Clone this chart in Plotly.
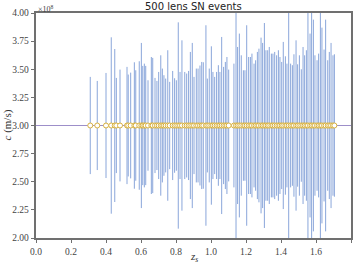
import plotly.graph_objects as go

# Source redshifts of the lens events (as visible) and their 1-sigma errors on c (units of 1e8 m/s)
z_s = [0.310, 0.350, 0.400, 0.430, 0.450, 0.459, 0.480, 0.520, 0.527, 0.541,
       0.562, 0.570, 0.590, 0.602, 0.610, 0.619, 0.627, 0.640, 0.659, 0.667,
       0.680, 0.691, 0.701, 0.713, 0.722, 0.731, 0.741, 0.753, 0.764, 0.781,
       0.792, 0.802, 0.813, 0.823, 0.834, 0.850, 0.861, 0.872, 0.882, 0.893,
       0.903, 0.916, 0.926, 0.937, 0.947, 0.956, 0.971, 0.979, 0.990, 1.002,
       1.011, 1.021, 1.032, 1.042, 1.051, 1.061, 1.072, 1.082, 1.091, 1.101,
       1.131, 1.143, 1.152, 1.162, 1.173, 1.185, 1.194, 1.204, 1.215, 1.225,
       1.234, 1.246, 1.255, 1.265, 1.274, 1.286, 1.295, 1.305, 1.314, 1.324,
       1.333, 1.345, 1.354, 1.364, 1.375, 1.385, 1.394, 1.404, 1.413, 1.425,
       1.434, 1.444, 1.455, 1.465, 1.474, 1.486, 1.495, 1.505, 1.516, 1.526,
       1.535, 1.545, 1.554, 1.566, 1.575, 1.585, 1.594, 1.606, 1.615, 1.625,
       1.634, 1.646, 1.655, 1.667, 1.676, 1.686, 1.697, 1.705]
c_err = [0.432, 0.396, 0.467, 0.784, 0.680, 0.423, 0.497, 0.521, 0.453, 0.470,
         0.562, 0.491, 0.571, 0.734, 0.530, 0.550, 0.530, 0.402, 0.609, 0.601,
         0.423, 0.396, 0.476, 0.624, 0.506, 0.447, 0.417, 0.669, 0.388, 0.485,
         0.420, 0.402, 0.917, 0.476, 0.757, 0.476, 0.462, 0.485, 0.654, 0.734,
         0.432, 0.506, 0.506, 0.533, 0.565, 0.562, 0.891, 0.417, 0.506, 0.704,
         0.476, 0.432, 0.476, 0.536, 0.476, 0.787, 0.521, 0.565, 0.609, 0.497,
         0.550, 1.050, 0.698, 0.817, 0.624, 0.491, 0.491, 0.891, 0.609, 0.609,
         0.639, 0.550, 0.580, 0.654, 0.683, 0.781, 0.734, 0.911, 0.669, 0.669,
         0.698, 0.639, 0.639, 0.654, 0.624, 0.669, 0.609, 0.565, 0.743, 0.615,
         0.550, 1.050, 0.550, 0.536, 0.633, 0.757, 0.544, 0.624, 0.500, 0.698,
         0.624, 0.669, 1.050, 0.817, 1.050, 0.941, 0.624, 0.580, 0.639, 1.050,
         0.870, 0.675, 0.941, 0.580, 0.654, 0.734, 0.624, 0.633]
c_true = 3.0  # units of 1e8 m/s
c_val = [c_true] * len(z_s)

x_ticks = [0.0, 0.2, 0.4, 0.6, 0.8, 1.0, 1.2, 1.4, 1.6, 1.8]
y_ticks = [2.00, 2.25, 2.50, 2.75, 3.00, 3.25, 3.50, 3.75, 4.00]

fig = go.Figure()

fig.add_trace(go.Scatter(
    x=[0.0, 1.8], y=[c_true, c_true], mode="lines",
    line=dict(color="#9d8fc9", width=1.2), hoverinfo="skip", showlegend=False))

fig.add_trace(go.Scatter(
    x=z_s, y=c_val, mode="markers",
    marker=dict(symbol="circle", size=5, color="white",
                line=dict(color="#d9b13e", width=1)),
    error_y=dict(type="data", array=c_err, symmetric=True, width=0,
                 thickness=1, color="#8aa6da"),
    showlegend=False))

tick_font = dict(family="Liberation Serif", size=9.5, color="#444")
axis_common = dict(showline=True, mirror=True, linecolor="#707070", linewidth=1.5,
                   ticks="outside", ticklen=3.5, tickcolor="#707070", tickwidth=1,
                   showgrid=False, zeroline=False, automargin=False,
                   tickfont=tick_font)

fig.update_layout(
    width=357, height=263,
    margin=dict(l=36, r=6, t=13, b=25),
    plot_bgcolor="white", paper_bgcolor="white",
    xaxis=dict(range=[0, 1.8], tickvals=x_ticks, ticktext=[f"{v:.1f}" for v in x_ticks],
               **axis_common),
    yaxis=dict(range=[2, 4], tickvals=y_ticks, ticktext=[f"{v:.2f}" for v in y_ticks],
               **axis_common),
    annotations=[
        dict(text="500 lens SN events", xref="paper", yref="paper", x=0.5, y=1.0,
             xanchor="center", yanchor="bottom", showarrow=False, yshift=-1,
             font=dict(family="DejaVu Sans", size=10, color="#222")),
        dict(text="×10<sup>8</sup>", xref="paper", yref="paper", x=0, y=1.0,
             xanchor="left", yanchor="bottom", showarrow=False, yshift=-3,
             font=dict(family="Liberation Serif", size=8, color="#444")),
        dict(text="<i>z<sub>s</sub></i>", xref="paper", yref="paper", x=0.5, y=0,
             xanchor="center", yanchor="top", showarrow=False, yshift=-10,
             font=dict(family="Liberation Serif", size=11, color="#333")),
        dict(text="<i>c</i> (m/s)", xref="paper", yref="paper", x=0, y=0.5,
             xanchor="center", yanchor="middle", showarrow=False, xshift=-29,
             textangle=-90,
             font=dict(family="Liberation Serif", size=11, color="#333")),
    ],
)

fig.write_html("out.html", config={"displayModeBar": False},
               post_script="document.body.style.margin='0';")
